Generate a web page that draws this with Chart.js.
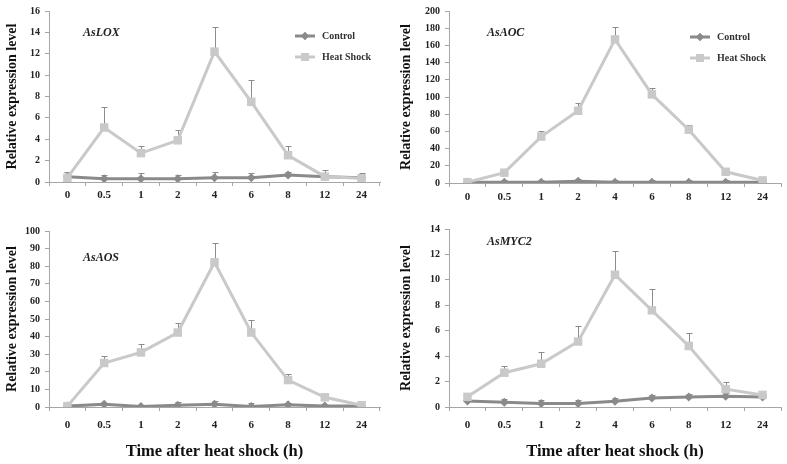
<!DOCTYPE html>
<html>
<head>
<meta charset="utf-8">
<script src="https://cdn.jsdelivr.net/npm/chart.js@4.4.1/dist/chart.umd.min.js"></script>
<style>
  body { margin: 0; background: #fff; width: 787px; height: 464px; position: relative; overflow: hidden; }
  canvas { position: absolute; }
</style>
</head>
<body>
<canvas id="lox" style="left:0;top:0"></canvas>
<canvas id="aoc" style="left:390px;top:0"></canvas>
<canvas id="aos" style="left:0;top:215px"></canvas>
<canvas id="myc" style="left:390px;top:215px"></canvas>
<script>
// time points (h)
const times = ["0", "0.5", "1", "2", "4", "6", "8", "12", "24"];

// AsLOX
const loxHeat = [0.4, 5.1, 2.7, 3.9, 12.2, 7.5, 2.5, 0.5, 0.35];
const loxHeatErr = [0.1, 1.9, 0.7, 1.0, 2.3, 2.0, 0.9, 0.3, 0.1];
const loxCtrl = [0.5, 0.3, 0.3, 0.3, 0.4, 0.4, 0.65, 0.5, 0.4];
const loxCtrlErr = [0.4, 0.4, 0.5, 0.4, 0.55, 0.4, 0.3, 0.6, 0.4];

// AsAOC
const aocHeat = [1, 12, 54, 84, 167, 103, 62, 13, 3];
const aocHeatErr = [0.5, 1, 6, 9, 14, 8, 6, 1, 0.5];
const aocCtrl = [1, 1, 1, 2, 1, 1, 1, 1, 1];
const aocCtrlErr = [2, 2, 3, 3, 3, 2, 3, 3, 2];

// AsAOS
const aosHeat = [0.5, 25, 31, 42.3, 82.2, 42.3, 15.3, 5.5, 1];
const aosHeatErr = [0.2, 3.7, 4.7, 5.7, 10.8, 7.2, 3.2, 0.5, 0.3];
const aosCtrl = [0.5, 1.5, 0.3, 1, 1.5, 0.3, 1.3, 0.5, 0.5];
const aosCtrlErr = [0.5, 1, 0.5, 2, 2, 2, 0.8, 0.5, 0.5];

// AsMYC2
const mycHeat = [0.8, 2.7, 3.4, 5.15, 10.4, 7.6, 4.8, 1.4, 0.95];
const mycHeatErr = [0.05, 0.55, 0.93, 1.2, 1.85, 1.68, 1.0, 0.57, 0.1];
const mycCtrl = [0.47, 0.37, 0.27, 0.27, 0.45, 0.7, 0.78, 0.85, 0.78];
const mycCtrlErr = [0.2, 0.28, 0.3, 0.3, 0.25, 0.28, 0.25, 0.25, 0.1];

const serif = '"Liberation Serif", "Times New Roman", serif';
const heatColor = "#c9c9c9";
const ctrlColor = "#8a8a8a";

// error bars (upper only, with cap)
const errorBarPlugin = {
  id: "errorBars",
  beforeDatasetsDraw(chart) {
    const ctx = chart.ctx;
    const yScale = chart.scales.y;
    ctx.save();
    ctx.strokeStyle = "#8c8c8c";
    ctx.lineWidth = 1;
    chart.data.datasets.forEach((ds, i) => {
      const meta = chart.getDatasetMeta(i);
      meta.data.forEach((pt, j) => {
        const top = yScale.getPixelForValue(ds.data[j] + ds.errors[j]);
        const x = Math.round(pt.x) + 0.5;
        ctx.beginPath();
        ctx.moveTo(x, pt.y);
        ctx.lineTo(x, Math.round(top) + 0.5);
        ctx.moveTo(x - 3, Math.round(top) + 0.5);
        ctx.lineTo(x + 3, Math.round(top) + 0.5);
        ctx.stroke();
      });
    });
    ctx.restore();
  }
};

// gene name and legend
const decorPlugin = {
  id: "decor",
  afterDraw(chart, args, opts) {
    const ctx = chart.ctx;
    ctx.save();
    ctx.fillStyle = "#222";
    ctx.font = "italic bold 12px " + serif;
    ctx.textBaseline = "middle";
    ctx.fillText(opts.gene, opts.geneX, opts.geneY);
    if (opts.legend) {
      const lx = opts.legend.x, ly = opts.legend.y;
      const items = [
        { label: "Control", color: ctrlColor, style: "rectRot", r: 4 },
        { label: "Heat Shock", color: heatColor, style: "rect", r: 5.5 }
      ];
      items.forEach((it, k) => {
        const y = ly + k * 21;
        ctx.strokeStyle = it.color;
        ctx.lineWidth = 3;
        ctx.beginPath();
        ctx.moveTo(lx, y);
        ctx.lineTo(lx + 20, y);
        ctx.stroke();
        ctx.fillStyle = it.color;
        Chart.helpers.drawPoint(ctx, { pointStyle: it.style, radius: it.r, borderWidth: 0 }, lx + 10, y);
        ctx.fill();
        ctx.fillStyle = "#333";
        ctx.font = "bold 10px " + serif;
        ctx.fillText(it.label, lx + 27, y);
      });
    }
    ctx.restore();
  }
};

function makePanel(id, w, h, cfg) {
  const canvas = document.getElementById(id);
  canvas.width = w;
  canvas.height = h;
  canvas.style.width = w + "px";
  canvas.style.height = h + "px";
  return new Chart(canvas, {
    type: "line",
    data: {
      labels: times,
      datasets: [
        {
          label: "Heat Shock",
          data: cfg.heat,
          errors: cfg.heatErr,
          borderColor: heatColor,
          backgroundColor: heatColor,
          borderWidth: 3,
          pointStyle: "rect",
          pointRadius: 6,
          pointBorderWidth: 0,
          order: 1
        },
        {
          label: "Control",
          data: cfg.ctrl,
          errors: cfg.ctrlErr,
          borderColor: ctrlColor,
          backgroundColor: ctrlColor,
          borderWidth: 3,
          pointStyle: "rectRot",
          pointRadius: 4.5,
          pointBorderWidth: 0,
          order: 2
        }
      ]
    },
    options: {
      responsive: false,
      animation: false,
      layout: { padding: { left: 0, right: cfg.padRight, top: cfg.padTop, bottom: 0 } },
      plugins: {
        legend: { display: false },
        tooltip: { enabled: false },
        decor: cfg.decor
      },
      scales: {
        x: {
          offset: true,
          afterFit: (s) => { s.height = cfg.xHeight; },
          grid: { offset: true, drawOnChartArea: false, tickLength: 4, color: "#a6a6a6" },
          border: { color: "#a6a6a6" },
          ticks: { color: "#222", padding: cfg.xPad, maxRotation: 0, font: { family: serif, size: 11, weight: "bold" } },
          title: {
            display: !!cfg.xTitle,
            text: "Time after heat shock (h)",
            color: "#111",
            font: { family: serif, size: 16.5, weight: "bold" },
            padding: { top: 0, bottom: 2 }
          }
        },
        y: {
          min: 0,
          max: cfg.max,
          afterFit: (s) => { s.width = cfg.yWidth; },
          grid: { drawOnChartArea: false, tickLength: 4, color: "#a6a6a6" },
          border: { color: "#a6a6a6" },
          ticks: { stepSize: cfg.step, color: "#222", padding: 5, font: { family: serif, size: 10, weight: "bold" } },
          title: {
            display: true,
            text: "Relative expression level",
            color: "#111",
            font: { family: serif, size: 14, weight: "bold" },
            padding: { top: cfg.yTitlePad, bottom: 0 }
          }
        }
      }
    },
    plugins: [errorBarPlugin, decorPlugin]
  });
}

makePanel("lox", 390, 215, {
  heat: loxHeat, heatErr: loxHeatErr, ctrl: loxCtrl, ctrlErr: loxCtrlErr,
  max: 16, step: 2, yWidth: 49, padRight: 10, padTop: 6, xHeight: 33, xPad: 3, yTitlePad: 4,
  decor: { gene: "AsLOX", geneX: 83, geneY: 33, legend: { x: 295, y: 36 } }
});
makePanel("aoc", 397, 215, {
  heat: aocHeat, heatErr: aocHeatErr, ctrl: aocCtrl, ctrlErr: aocCtrlErr,
  max: 200, step: 20, yWidth: 59, padRight: 0, padTop: 5, xHeight: 32, xPad: 4, yTitlePad: 8,
  decor: { gene: "AsAOC", geneX: 97, geneY: 33, legend: { x: 300, y: 37 } }
});
makePanel("aos", 390, 249, {
  heat: aosHeat, heatErr: aosHeatErr, ctrl: aosCtrl, ctrlErr: aosCtrlErr,
  max: 100, step: 10, yWidth: 49, padRight: 10, padTop: 16, xHeight: 57, xPad: 8, yTitlePad: 4, xTitle: true,
  decor: { gene: "AsAOS", geneX: 83, geneY: 43 }
});
makePanel("myc", 397, 249, {
  heat: mycHeat, heatErr: mycHeatErr, ctrl: mycCtrl, ctrlErr: mycCtrlErr,
  max: 14, step: 2, yWidth: 59, padRight: 0, padTop: 14, xHeight: 57, xPad: 8, yTitlePad: 8, xTitle: true,
  decor: { gene: "AsMYC2", geneX: 97, geneY: 27 }
});
</script>
</body>
</html>
